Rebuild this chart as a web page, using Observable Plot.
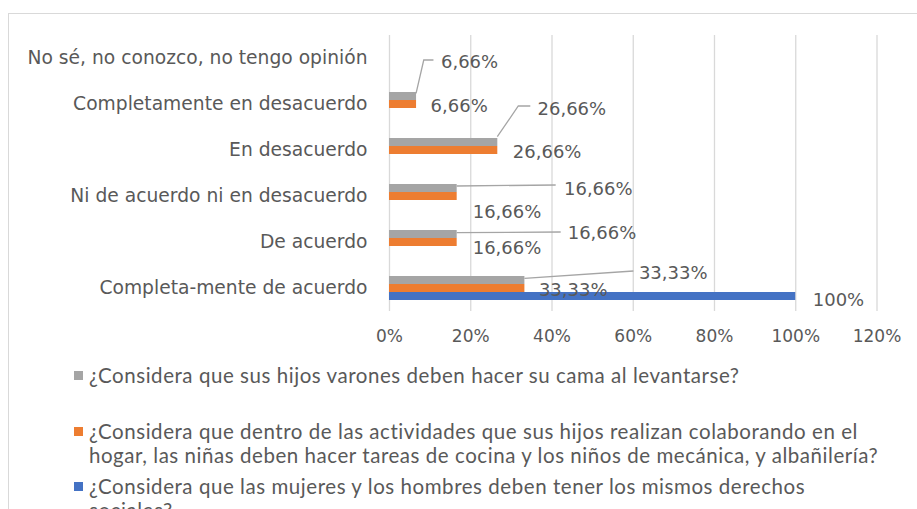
<!DOCTYPE html>
<html><head><meta charset="utf-8">
<script src="https://cdn.jsdelivr.net/npm/d3@7"></script>
<script src="https://cdn.jsdelivr.net/npm/@observablehq/plot@0.6"></script>
<style>
body{margin:0;background:#fff;width:917px;height:509px;overflow:hidden;position:relative;font-family:"DejaVu Sans",sans-serif;}
#frame{position:absolute;left:8px;top:13px;width:2000px;height:2000px;border-left:1.5px solid #d9d9d9;border-top:1.5px solid #d9d9d9;}
#chart{position:absolute;left:0;top:0;}
#legend{position:absolute;left:74px;top:363px;font-family:Lato,sans-serif;font-size:20.5px;letter-spacing:0.55px;color:#595959;}
.item{position:relative;padding-left:15px;line-height:24px;white-space:nowrap;}
.sw{position:absolute;left:0;top:8px;width:9px;height:9px;}
</style></head><body>
<div id="frame"></div><div id="chart"></div><div id="legend"></div>
<script>
const categories = [
  "No sé, no conozco, no tengo opinión",
  "Completamente en desacuerdo",
  "En desacuerdo",
  "Ni de acuerdo ni en desacuerdo",
  "De acuerdo",
  "Completa-mente de acuerdo"
];
const seriesNames = [
  "¿Considera que sus hijos varones deben hacer su cama al levantarse?",
  "¿Considera que dentro de las actividades que sus hijos realizan colaborando en el\nhogar, las niñas deben hacer tareas de cocina y los niños de mecánica, y albañilería?",
  "¿Considera que las mujeres y los hombres deben tener los mismos derechos\nsociales?"
];
const grayValues = [0, 6.66, 26.66, 16.66, 16.66, 33.33];
const orangeValues = [0, 6.66, 26.66, 16.66, 16.66, 33.33];
const blueValues = [0, 0, 0, 0, 0, 100];
const xTicks = [0, 20, 40, 60, 80, 100, 120];

const colors = ["#A5A5A5", "#ED7D31", "#4472C4"];
const seriesValues = [grayValues, orangeValues, blueValues];
const fmt = v => (Number.isInteger(v) ? String(v) : v.toFixed(2).replace(".", ",")) + "%";

// bar placement inside each category band (gray top, orange middle, blue bottom)
const insets = [[11, 27], [19, 19], [27, 11]];

const rows = [];
seriesValues.forEach((vals, s) => vals.forEach((v, i) => rows.push({s, cat: categories[i], i, value: v})));

// label layout (pixel offsets from bar end / band centre)
const orangeOff = {1: [14, 2], 2: [15, 2], 3: [15.5, 16], 4: [15.5, 6], 5: [14, 2]};
const blueOff = {5: [17, 12]};
const grayOff = {1: [24.4, -42.3], 2: [39.7, -41.7], 3: [106.8, -7], 4: [110.5, -9.7], 5: [114, -15]};
const grayLeader = {
  1: [[0, -10.7], [7.7, -44], [17.4, -44]],
  2: [[0, -13.3], [21, -44], [33, -44]],
  3: [[0, -10], [99, -11]],
  4: [[0, -9.3], [104, -10]],
  5: [[0, -9.7], [109, -17]]
};

const labelMarks = [];
rows.filter(r => r.value > 0).forEach(r => {
  const off = r.s === 0 ? grayOff[r.i] : r.s === 1 ? orangeOff[r.i] : blueOff[r.i];
  labelMarks.push(Plot.text([r], {
    x: "value", y: "cat", text: d => fmt(d.value),
    dx: off[0], dy: off[1], textAnchor: "start", lineAnchor: "middle",
    fill: "#595959", fontSize: 18
  }));
});

function leaders(index, scales) {
  const g = d3.create("svg:g").attr("fill", "none").attr("stroke", "#A5A5A5").attr("stroke-width", 1.3);
  const bw = scales.y.bandwidth ? scales.y.bandwidth() : 46;
  rows.filter(r => r.s === 0 && r.value > 0).forEach(r => {
    const x0 = scales.x(r.value), y0 = scales.y(r.cat) + bw / 2;
    const pts = grayLeader[r.i].map(([dx, dy]) => [x0 + dx, y0 + dy]);
    g.append("path").attr("d", d3.line()(pts));
  });
  return g.node();
}

const chart = Plot.plot({
  width: 917, height: 350,
  marginLeft: 389, marginRight: 40.5, marginTop: 35, marginBottom: 39,
  style: {fontFamily: "DejaVu Sans", fontSize: "16.5px", color: "#595959", background: "transparent"},
  x: {domain: [0, 120], axis: null, label: null},
  y: {domain: categories, padding: 0, axis: null, label: null},
  marks: [
    Plot.gridX(xTicks, {stroke: "#d9d9d9", strokeOpacity: 1, strokeWidth: 1.3}),
    ...[0, 1, 2].map(s => Plot.barX(rows.filter(r => r.s === s), {
      x: "value", y: "cat", fill: colors[s], insetTop: insets[s][0], insetBottom: insets[s][1]
    })),
    leaders,
    ...labelMarks,
    Plot.axisY({label: null, tickSize: 0, tickPadding: 22, fontSize: 18.7, fill: "#595959"}),
    Plot.axisX(xTicks, {label: null, tickSize: 0, tickPadding: 18, fontSize: 17, fill: "#595959", tickFormat: d => d + "%"})
  ]
});
document.getElementById("chart").appendChild(chart);

const legend = document.getElementById("legend");
const gaps = [32, 7, 0];
seriesNames.forEach((name, s) => {
  const item = document.createElement("div");
  item.className = "item";
  item.style.marginBottom = gaps[s] + "px";
  const sw = document.createElement("span");
  sw.className = "sw"; sw.style.background = colors[s];
  item.appendChild(sw);
  name.split("\n").forEach((line, k) => {
    if (k) item.appendChild(document.createElement("br"));
    item.appendChild(document.createTextNode(line));
  });
  legend.appendChild(item);
});
</script>
</body></html>
